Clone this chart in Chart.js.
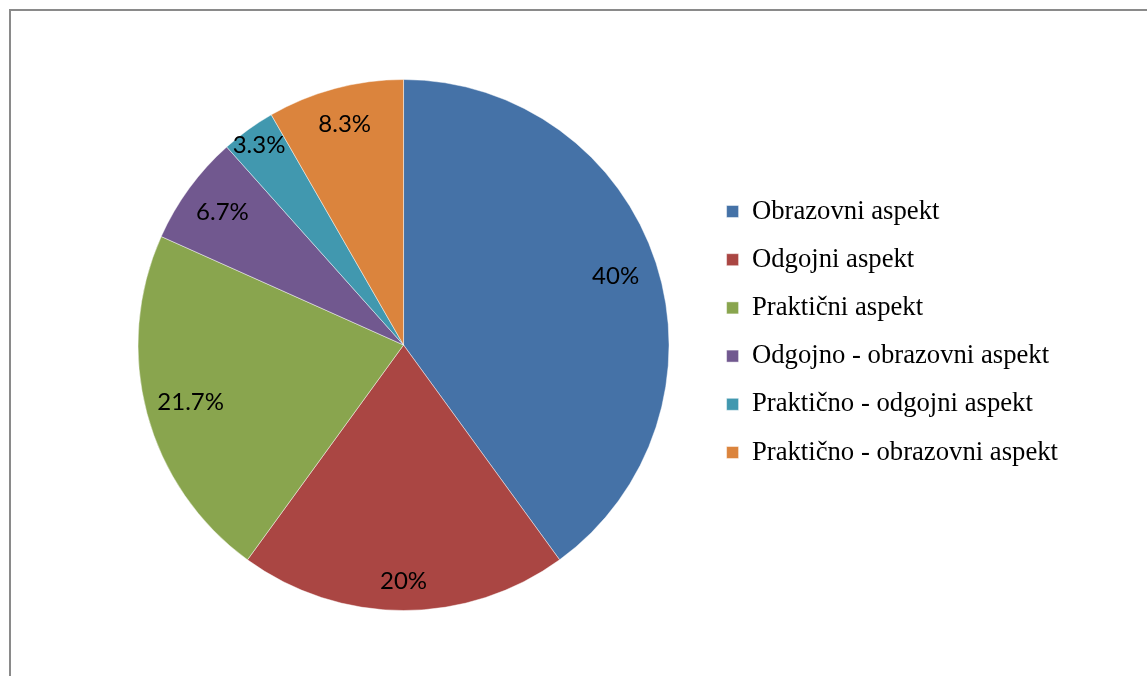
<!DOCTYPE html>
<html>
<head>
<meta charset="utf-8">
<script src="https://cdn.jsdelivr.net/npm/chart.js@4.4.1/dist/chart.umd.min.js"></script>
<style>
    html, body { margin: 0; padding: 0; background: #fff; overflow: hidden; }
    #wrap { position: relative; width: 1147px; height: 676px; }
    #frame {
        position: absolute; left: 9px; top: 9px; width: 1200px; height: 700px;
        border-left: 2px solid #8a8a8a; border-top: 2px solid #8a8a8a;
        pointer-events: none;
    }
</style>
</head>
<body>
<div id="wrap">
    <canvas id="myChart"></canvas>
    <div id="frame"></div>
</div>
<script>
const categories = [
    'Obrazovni aspekt',
    'Odgojni aspekt',
    'Praktični aspekt',
    'Odgojno - obrazovni aspekt',
    'Praktično - odgojni aspekt',
    'Praktično - obrazovni aspekt'
]
const percents = [40, 20, 21.7, 6.7, 3.3, 8.3]
const colors = ['#4572a7', '#aa4643', '#89a54e', '#71588f', '#4198af', '#db843d']

// how far out (share of the radius) each value label sits
const labelRadius = [0.84, 0.89, 0.83, 0.845, 0.93, 0.86]

// draws the percent labels inside the slices
const sliceLabels = {
    id: 'sliceLabels',
    afterDatasetsDraw(chart, args, opts) {
        const ctx = chart.ctx
        const meta = chart.getDatasetMeta(0)
        ctx.save()
        ctx.font = opts.font
        ctx.fillStyle = opts.color
        ctx.textAlign = 'center'
        ctx.textBaseline = 'middle'
        meta.data.forEach((arc, i) => {
            const p = arc.getProps(['x', 'y', 'startAngle', 'endAngle', 'outerRadius'], true)
            const mid = (p.startAngle + p.endAngle) / 2
            const r = p.outerRadius * opts.radius[i]
            ctx.fillText(percents[i] + '%', p.x + Math.cos(mid) * r, p.y + Math.sin(mid) * r)
        })
        ctx.restore()
    }
}

// nudge the legend column up a little
const legendShift = {
    id: 'legendShift',
    afterLayout(chart, args, opts) {
        if (chart.legend) {
            chart.legend.top -= opts.shift
            chart.legend.bottom -= opts.shift
        }
    }
}

const ctx = document.getElementById('myChart').getContext('2d')

new Chart(ctx, {
    type: 'pie',
    data: {
        labels: categories,
        datasets: [{
            data: percents,
            backgroundColor: colors,
            borderColor: 'rgba(255,255,255,0.45)',
            borderWidth: 1
        }]
    },
    options: {
        responsive: true,
        maintainAspectRatio: false,
        animation: false,
        layout: {
            padding: { left: 102, right: 79, top: 79, bottom: 65 }
        },
        plugins: {
            tooltip: { enabled: false },
            legend: {
                display: true,
                position: 'right',
                labels: {
                    boxWidth: 12,
                    boxHeight: 12,
                    padding: 21.5,
                    color: '#000',
                    font: { family: '"Liberation Serif", "Times New Roman", serif', size: 26.7 }
                }
            },
            sliceLabels: {
                font: '24px Lato, "Liberation Sans", sans-serif',
                color: '#000',
                radius: labelRadius
            },
            legendShift: { shift: 13 }
        }
    },
    plugins: [sliceLabels, legendShift]
})
</script>
</body>
</html>
